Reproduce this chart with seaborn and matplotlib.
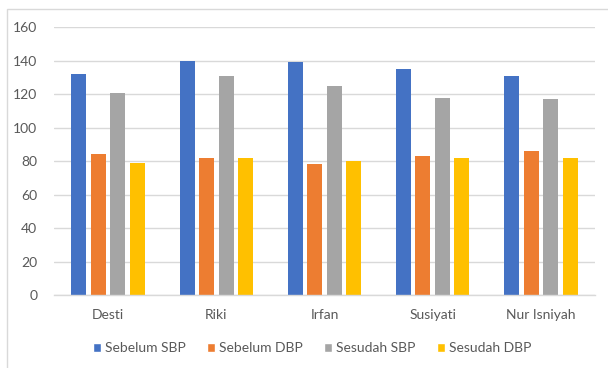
import matplotlib
matplotlib.use("Agg")
import matplotlib.pyplot as plt
import seaborn as sns
import pandas as pd
from matplotlib.patches import Rectangle

names = ["Desti", "Riki", "Irfan", "Susiyati", "Nur Isniyah"]
series = ["Sebelum SBP", "Sebelum DBP", "Sesudah SBP", "Sesudah DBP"]
sebelum_sbp = [132, 140, 139, 135, 131]
sebelum_dbp = [84, 82, 78, 83, 86]
sesudah_sbp = [121, 131, 125, 118, 117]
sesudah_dbp = [79, 82, 80, 82, 82]
colors = ["#4472C4", "#ED7D31", "#A5A5A5", "#FFC000"]
yticks = [0, 20, 40, 60, 80, 100, 120, 140, 160]

rows = []
for s, vals in zip(series, [sebelum_sbp, sebelum_dbp, sesudah_sbp, sesudah_dbp]):
    for n, v in zip(names, vals):
        rows.append({"Nama": n, "Seri": s, "Nilai": v})
df = pd.DataFrame(rows)

sns.set_theme(style="white")
plt.rcParams["font.family"] = ["Lato", "DejaVu Sans"]

fig = plt.figure(figsize=(6.08, 3.68), dpi=100)
ax = fig.add_axes([54 / 608, 1 - 295 / 368, 541 / 608, (295 - 27.3) / 368])

sns.barplot(data=df, x="Nama", y="Nilai", hue="Seri", order=names,
            hue_order=series, palette=colors, width=0.72, ax=ax,
            saturation=1, legend=True, errorbar=None)

shrink = 0.77
for p in ax.patches:
    w = p.get_width()
    if w == 0:
        continue
    x = p.get_x()
    p.set_x(x + w * (1 - shrink) / 2)
    p.set_width(w * shrink)
    p.set_edgecolor("none")

ax.set_ylim(0, 160)
ax.set_yticks(yticks)
ax.set_xlim(-0.5, len(names) - 0.5)
ax.yaxis.grid(True, color="#D9D9D9", linewidth=1)
ax.set_axisbelow(True)
for s in ["top", "right", "left"]:
    ax.spines[s].set_visible(False)
ax.spines["bottom"].set_color("#D9D9D9")
ax.spines["bottom"].set_linewidth(1)
ax.set_xlabel("")
ax.set_ylabel("")
ax.tick_params(axis="both", length=0, labelsize=10, colors="#595959")
ax.tick_params(axis="y", pad=12)
ax.tick_params(axis="x", pad=10)

handles, labels = ax.get_legend_handles_labels()
ax.get_legend().remove()
fig.legend(handles, labels, loc="center", bbox_to_anchor=(312 / 608, 1 - 348 / 368),
           ncol=4, frameon=False, fontsize=10, handlelength=0.6, handleheight=0.6,
           handletextpad=0.3, columnspacing=1.5, labelcolor="#595959")

fig.patches.append(Rectangle((7 / 608, -0.1), 1.2, 1 - 9 / 368 + 0.1,
                             transform=fig.transFigure, fill=False,
                             edgecolor="#D9D9D9", linewidth=1))

fig.savefig("out.png", dpi=100)
